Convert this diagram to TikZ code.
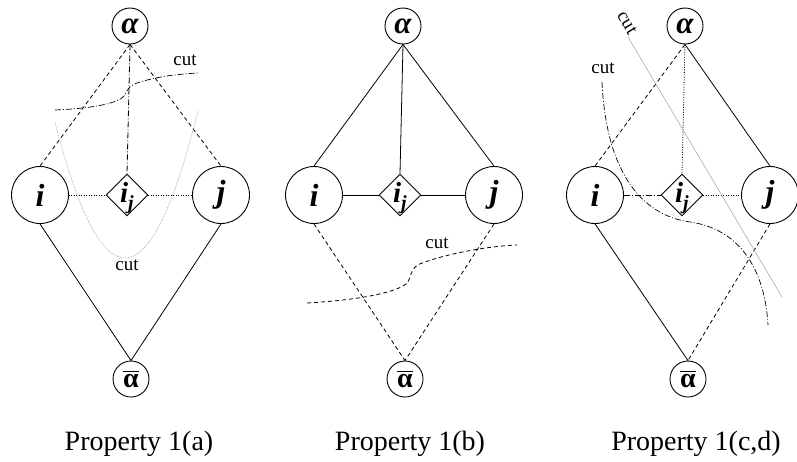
\documentclass[tikz,border=0pt]{standalone}
\usepackage{fontspec}
\setmainfont{Liberation Serif}
\usetikzlibrary{shapes.geometric}
\newcommand\ijlabel{\textbf{\textit{i}}\raisebox{-7pt}{\fontsize{20}{20}\selectfont\textbf{\textit{j}}}}
\newcommand\abar{\vbox{\hrule height 1.8pt \kern 1.5pt \hbox{\bfseries α}}}
\begin{document}
\begin{tikzpicture}[x=1pt,y=-1pt,
  vert/.style={draw, circle, line width=0.9pt, inner sep=0pt},
  apex/.style={vert, minimum size=36pt, font=\fontsize{31}{31}\selectfont\bfseries\itshape},
  side/.style={vert, minimum size=57pt, font=\fontsize{32}{32}\selectfont\bfseries\itshape},
  sink/.style={vert, minimum size=36pt, font=\fontsize{28}{28}\selectfont\bfseries},
  mid/.style={draw, diamond, aspect=1, line width=0.9pt, inner sep=0pt, minimum size=42pt,
    label={[font=\fontsize{29}{29}\selectfont, inner sep=0pt, yshift=-3pt]center:\ijlabel}},
  solidedge/.style={line width=0.8pt},
  dashededge/.style={line width=0.8pt, dash pattern=on 4pt off 3pt},
  dotedge/.style={line width=0.8pt, dash pattern=on 1pt off 1.5pt},
  dashdotedge/.style={line width=0.8pt, dash pattern=on 6pt off 2pt on 1pt off 2pt},
  graycut/.style={gray!75, line width=0.5pt},
  cutlabel/.style={font=\fontsize{19}{19}\selectfont, anchor=base, inner sep=0pt},
  caption/.style={font=\fontsize{28}{28}\selectfont, anchor=base, inner sep=0pt},
]
\useasboundingbox (0,0) rectangle (797,461);

% ---------- Property 1(a) ----------
\node[apex] (aA) at (130,26) {α};
\node[side] (iA) at (40,195) {i};
\node[mid]  (dA) at (127,195) {};
\node[side] (jA) at (221,195) {j};
\node[sink] (bA) at (131,379) {\abar};

\draw[dashededge]  (aA.south) -- (iA.north);
\draw[dashededge]  (aA.south) -- (jA.north);
\draw[dashdotedge] (aA.south) -- (dA.north);
\draw[dotedge]     (iA.east) -- (dA.west);
\draw[dotedge]     (dA.east) -- (jA.west);
\draw[solidedge]   (iA.south) -- (bA.north);
\draw[solidedge]   (jA.south) -- (bA.north);

\draw[dashdotedge, line width=0.7pt] (55,110) .. controls (100,108) and (120,102) .. (125,95)
  .. controls (128,88) and (130,85) .. (140,82) .. controls (160,76) and (180,74) .. (198,73);
\draw[graycut, dash pattern=on 0.8pt off 0.8pt]
  plot[domain=55:198, samples=80] (\x, {258-0.0276*(\x-125)^2});
\node[cutlabel] (cutA1) at (185,65) {cut};
\node[cutlabel] (cutA2) at (127,270) {cut};
\node[caption] (capA) at (139,450) {Property 1(a)};

% ---------- Property 1(b) ----------
\node[apex] (aB) at (403,26) {α};
\node[side] (iB) at (314,195) {i};
\node[mid]  (dB) at (400,195) {};
\node[side] (jB) at (494,195) {j};
\node[sink] (bB) at (405,379) {\abar};

\draw[solidedge]  (aB.south) -- (iB.north);
\draw[solidedge]  (aB.south) -- (jB.north);
\draw[solidedge]  (aB.south) -- (dB.north);
\draw[solidedge]  (iB.east) -- (dB.west);
\draw[solidedge]  (dB.east) -- (jB.west);
\draw[dashededge] (iB.south) -- (bB.north);
\draw[dashededge] (jB.south) -- (bB.north);

\draw[dashededge] (307,303) .. controls (360,300) and (400,292) .. (408,282)
  .. controls (413,270) and (412,266) .. (425,262) .. controls (450,253) and (490,246) .. (517,245);
\node[cutlabel] (cutB) at (437,248) {cut};
\node[caption] (capB) at (410,450) {Property 1(b)};

% ---------- Property 1(c,d) ----------
\node[apex] (aC) at (685,26) {α};
\node[side] (iC) at (595,195) {i};
\node[mid]  (dC) at (682,195) {};
\node[side] (jC) at (770,195) {j};
\node[sink] (bC) at (688,379) {\abar};

\draw[dashededge]  (aC.south) -- (iC.north);
\draw[dotedge]     (aC.south) -- (dC.north);
\draw[solidedge]   (aC.south) -- (jC.north);
\draw[dashdotedge] (iC.east) -- (dC.west);
\draw[dotedge]     (dC.east) -- (jC.west);
\draw[solidedge]   (iC.south) -- (bC.north);
\draw[dashededge]  (jC.south) -- (bC.north);

\draw[dashdotedge, line width=0.7pt] (602,82) .. controls (606,170) and (640,215) .. (690,222)
  .. controls (740,229) and (765,270) .. (768,325);
\draw[graycut] (628,37) -- (782,297);
\node[cutlabel] (cutC1) at (603,73) {cut};
\node[font=\fontsize{19}{19}\selectfont, inner sep=0pt, rotate=-59] (cutC2) at (627,23) {cut};
\node[caption] (capC) at (696,450) {Property 1(c,d)};
\end{tikzpicture}
\end{document}
